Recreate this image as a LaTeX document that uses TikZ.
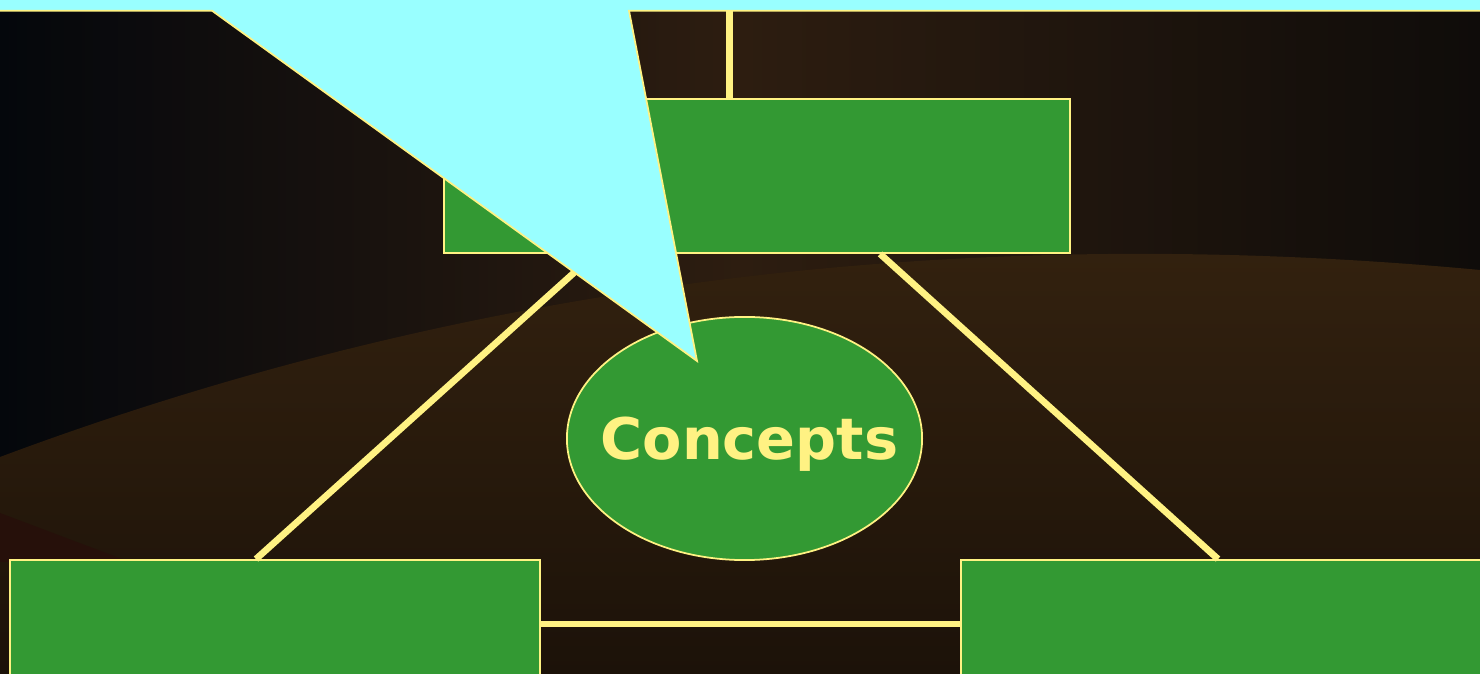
\documentclass[tikz,border=0pt]{standalone}
\usepackage{fontspec}
\newfontfamily\conceptfont{DejaVu Sans}
\usetikzlibrary{shapes.geometric}
\definecolor{boxgreen}{HTML}{339933}
\definecolor{lineyellow}{HTML}{FFF283}
\definecolor{calloutcyan}{HTML}{99FFFF}
\definecolor{bgleft}{HTML}{04070C}
\definecolor{bgmid}{HTML}{2D1D10}
\definecolor{bgright}{HTML}{0F0C0A}
\definecolor{bandtop}{HTML}{34220F}
\definecolor{bandbottom}{HTML}{1C1209}
\definecolor{bgred}{HTML}{26100A}

\begin{document}
\begin{tikzpicture}[x=0.01cm, y=-0.01cm, link/.style={lineyellow,line width=1.9pt},
box/.style={rectangle,draw=lineyellow,fill=boxgreen,line width=.5pt,inner sep=0pt},
concept node/.style={ellipse,draw=lineyellow,fill=boxgreen,line width=.5pt,inner xsep=-0.285cm,inner ysep=0pt,minimum width=3.55cm,minimum height=2.43cm,text depth=0pt,text=lineyellow}]
\useasboundingbox (0,0) rectangle (1480,674);
\clip (0,0) rectangle (1480,674);
% background
\shade[left color=bgleft, right color=bgright, middle color=bgmid] (0,0) rectangle (1480,674);
\shade[top color=bandtop, bottom color=bandbottom] (0,457) .. controls (500,270) and (1000,225) .. (1480,270) -- (1480,674) -- (0,674) -- cycle;
\fill[bgred] (0,513) -- (130,562) -- (0,562) -- cycle;
\begin{scope}[every node/.style={font=\conceptfont\bfseries\fontsize{16.3}{19}\selectfont}]
\node[box, minimum width=6.26cm, minimum height=1.54cm] (topbox) at (757,176) {};
\node[box, minimum width=5.30cm, minimum height=1.28cm] (leftbox) at (275,624) {};
\node[box, minimum width=5.30cm, minimum height=1.28cm] (rightbox) at (1226,624) {};
\node[concept node] (concepts) at (744.5,438.5) {\hspace{0.1cm}Concepts};
\end{scope}
\begin{scope}
\coordinate (strip) at (729.5,10.7);
\draw[link] (strip) -- (strip |- topbox.north);
\draw[link] ([xshift=-1.62cm]topbox.south) -- ([xshift=-0.19cm]leftbox.north);
\draw[link] ([xshift=1.23cm]topbox.south) -- ([xshift=-0.08cm]rightbox.north);
\draw[link] (leftbox) -- (rightbox);
\end{scope}
% callout
\coordinate (tip) at (697,361);
\filldraw[fill=calloutcyan, draw=lineyellow, line width=.5pt] (-10,-50) -- (1490,-50) -- (1490,10.7) -- (629,10.7) -- (tip) -- (212,10.7) -- (-10,10.7) -- cycle;
\end{tikzpicture}
\end{document}
